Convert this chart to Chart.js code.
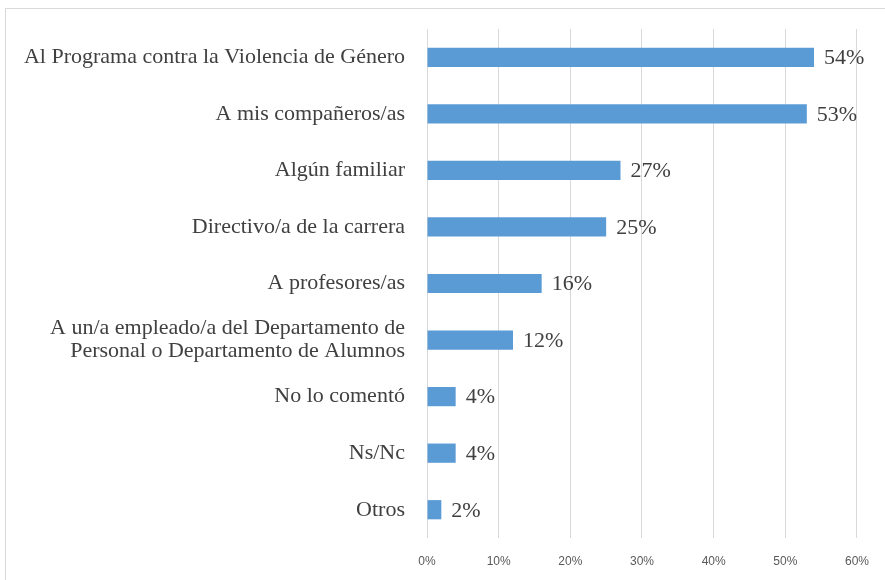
<!DOCTYPE html>
<html>
<head>
<meta charset="utf-8">
<script src="https://cdn.jsdelivr.net/npm/chart.js@4/dist/chart.umd.min.js"></script>
<style>
  body { margin: 0; background: #fff; }
  #wrap { position: relative; width: 885px; height: 580px; overflow: hidden; }
  #frame { position: absolute; left: 5px; top: 8px; width: 900px; height: 600px; border: 1px solid #d9d9d9; box-sizing: border-box; }
  canvas { position: absolute; left: 0; top: 0; }
</style>
</head>
<body>
<div id="wrap">
  <div id="frame"></div>
  <canvas id="chart" width="885" height="580"></canvas>
</div>
<script>
// categories and values (percent)
const categories = [
    "Al Programa contra la Violencia de Género",
    "A mis compañeros/as",
    "Algún familiar",
    "Directivo/a de la carrera",
    "A profesores/as",
    ["A un/a empleado/a del Departamento de", "Personal o Departamento de Alumnos"],
    "No lo comentó",
    "Ns/Nc",
    "Otros"
];
const values = [54, 53, 27, 25, 16, 12, 4, 4, 2];
const xTicks = [0, 10, 20, 30, 40, 50, 60];

const serif = "'Liberation Serif', 'Times New Roman', serif";

// draws the "54%" style labels at the end of each bar
const barLabels = {
    id: 'barLabels',
    afterDatasetsDraw(chart) {
        let ctx = chart.ctx;
        let meta = chart.getDatasetMeta(0);
        ctx.save();
        ctx.font = "22px " + serif;
        ctx.fillStyle = "#404040";
        ctx.textAlign = "left";
        ctx.textBaseline = "middle";
        meta.data.forEach((bar, i) => {
            ctx.fillText(values[i] + "%", bar.x + 10, bar.y + 1);
        });
        ctx.restore();
    }
};

let ctx = document.getElementById('chart').getContext('2d');
new Chart(ctx, {
    type: 'bar',
    data: {
        labels: categories,
        datasets: [{
            data: values,
            backgroundColor: '#5b9bd5',
            borderWidth: 0,
            barPercentage: 0.34,
            categoryPercentage: 1
        }]
    },
    plugins: [barLabels],
    options: {
        indexAxis: 'y',
        responsive: false,
        animation: false,
        layout: { padding: { top: 29, right: 28, bottom: 0, left: 0 } },
        plugins: {
            legend: { display: false },
            tooltip: { enabled: false }
        },
        scales: {
            x: {
                min: 0,
                max: 60,
                afterBuildTicks: (s) => { s.ticks = xTicks.map(v => ({ value: v })); },
                afterFit: (s) => { s.height = 42; },
                grid: { color: '#d9d9d9', drawTicks: false },
                border: { display: false },
                ticks: {
                    padding: 16,
                    color: '#595959',
                    font: { family: "'Liberation Sans', Arial, sans-serif", size: 12 },
                    callback: (v) => v + '%'
                }
            },
            y: {
                afterFit: (s) => { s.width = 427; s.paddingTop = 0; s.paddingBottom = 0; },
                grid: { display: false, drawTicks: false },
                border: { display: false },
                ticks: {
                    padding: 22,
                    color: '#404040',
                    font: { family: serif, size: 22, lineHeight: 1.05 }
                }
            }
        }
    }
});
</script>
</body>
</html>
